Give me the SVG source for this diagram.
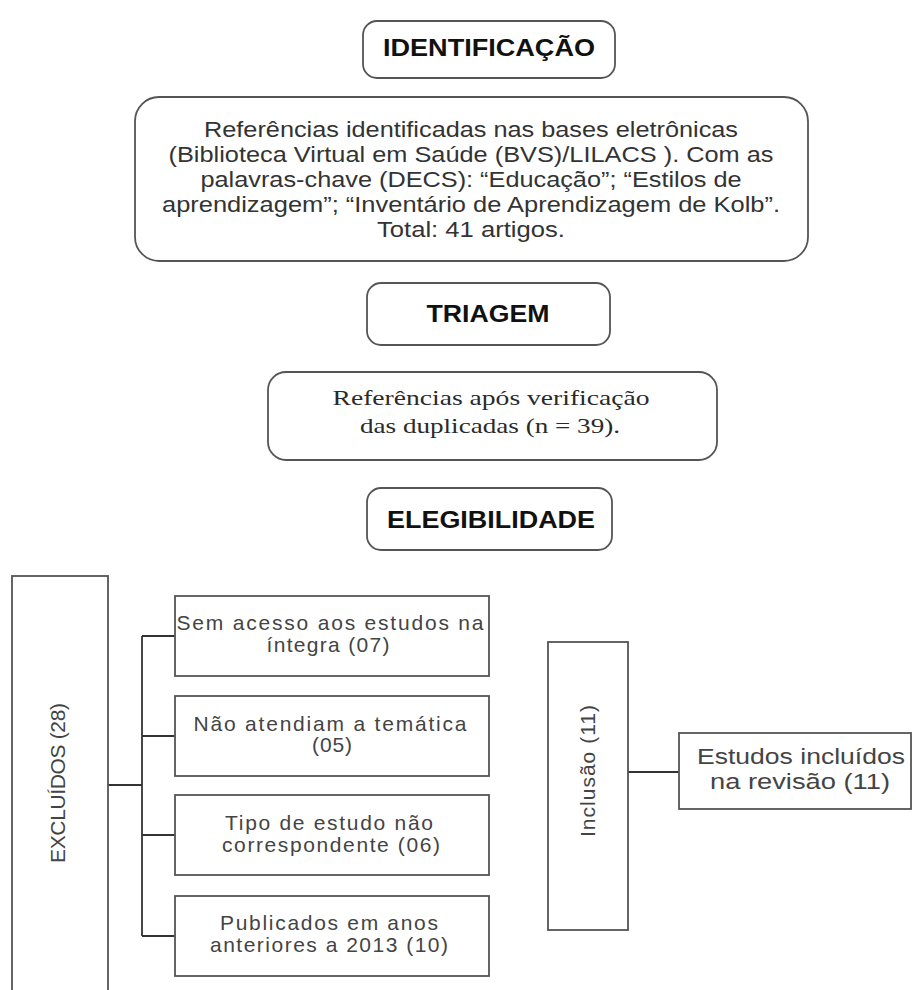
<svg xmlns="http://www.w3.org/2000/svg" width="913" height="990" viewBox="0 0 913 990">
<style>
.rbox{fill:#fff;stroke:#555;stroke-width:1.8}
.box{fill:#fff;stroke:#555;stroke-width:1.8}
.title{font-family:"Liberation Sans",Arial,sans-serif;font-weight:bold;font-size:24px;fill:#111;text-anchor:middle}
.body{font-family:"Liberation Sans",Arial,sans-serif;font-size:22px;fill:#333;text-anchor:middle}
.serif{font-family:"Liberation Serif","Times New Roman",serif;font-size:22px;fill:#2a2a2a;text-anchor:middle}
.small{font-family:"Liberation Sans",Arial,sans-serif;font-size:21px;fill:#444;text-anchor:middle}
.inc{font-family:"Liberation Sans",Arial,sans-serif;font-size:22px;fill:#444;text-anchor:middle}
.conn{fill:none;stroke:#333;stroke-width:1.8}
</style>
<rect width="913" height="990" fill="#fff"/>
<g id="identificacao">
<rect class="rbox" x="363" y="21" width="252" height="57" rx="14"/>
<text class="title" x="489" y="56" textLength="212" lengthAdjust="spacingAndGlyphs">IDENTIFICAÇÃO</text>
</g>
<g id="referencias">
<rect class="rbox" x="135" y="97" width="673" height="164" rx="24"/>
<text class="body" x="471" y="137" textLength="534" lengthAdjust="spacingAndGlyphs">Referências identificadas nas bases eletrônicas</text>
<text class="body" x="471" y="162" textLength="605" lengthAdjust="spacingAndGlyphs">(Biblioteca Virtual em Saúde (BVS)/LILACS ). Com as</text>
<text class="body" x="471" y="187" textLength="541" lengthAdjust="spacingAndGlyphs">palavras-chave (DECS): “Educação”; “Estilos de</text>
<text class="body" x="471" y="212" textLength="618" lengthAdjust="spacingAndGlyphs">aprendizagem”; “Inventário de Aprendizagem de Kolb”.</text>
<text class="body" x="471" y="237" textLength="188" lengthAdjust="spacingAndGlyphs">Total: 41 artigos.</text>
</g>
<g id="triagem">
<rect class="rbox" x="367" y="283" width="243" height="62" rx="14"/>
<text class="title" x="488" y="322" textLength="123" lengthAdjust="spacingAndGlyphs">TRIAGEM</text>
</g>
<g id="duplicadas">
<rect class="rbox" x="268" y="372" width="449" height="88" rx="18"/>
<text class="serif" x="491" y="405" textLength="317" lengthAdjust="spacingAndGlyphs">Referências após verificação</text>
<text class="serif" x="490" y="433" textLength="260" lengthAdjust="spacingAndGlyphs">das duplicadas (n = 39).</text>
</g>
<g id="elegibilidade">
<rect class="rbox" x="367" y="488" width="245" height="62" rx="14"/>
<text class="title" x="491" y="528" textLength="208" lengthAdjust="spacingAndGlyphs">ELEGIBILIDADE</text>
</g>
<g id="connectors">
<path class="conn" d="M108 785 H142"/>
<path class="conn" d="M142 636 V936"/>
<path class="conn" d="M142 636 H175"/>
<path class="conn" d="M142 736 H175"/>
<path class="conn" d="M142 835 H175"/>
<path class="conn" d="M142 936 H175"/>
<path class="conn" d="M628 772 H679"/>
</g>
<g id="excluidos">
<rect class="box" x="12" y="576" width="96" height="430"/>
<text class="small" transform="translate(58,783) rotate(-90)" x="0" y="7" textLength="160">EXCLUÍDOS (28)</text>
</g>
<g id="sem-acesso">
<rect class="box" x="175" y="596" width="314" height="80"/>
<text class="small" x="330" y="630" textLength="307">Sem acesso aos estudos na</text>
<text class="small" x="328" y="652" textLength="123">íntegra (07)</text>
</g>
<g id="tematica">
<rect class="box" x="175" y="696" width="314" height="80"/>
<text class="small" x="330" y="731" textLength="273">Não atendiam a temática</text>
<text class="small" x="332" y="752" textLength="40">(05)</text>
</g>
<g id="tipo-estudo">
<rect class="box" x="175" y="795" width="314" height="80"/>
<text class="small" x="329" y="830" textLength="208">Tipo de estudo não</text>
<text class="small" x="331" y="852" textLength="218">correspondente (06)</text>
</g>
<g id="publicados">
<rect class="box" x="175" y="896" width="314" height="80"/>
<text class="small" x="329" y="930" textLength="218">Publicados em anos</text>
<text class="small" x="329" y="952" textLength="238">anteriores a 2013 (10)</text>
</g>
<g id="inclusao">
<rect class="box" x="548" y="642" width="80" height="288"/>
<text class="small" transform="translate(588,771) rotate(-90)" x="0" y="7" textLength="132">Inclusão (11)</text>
</g>
<g id="incluidos">
<rect class="box" x="679" y="733" width="232" height="76"/>
<text class="inc" x="801" y="764" textLength="208" lengthAdjust="spacingAndGlyphs">Estudos incluídos</text>
<text class="inc" x="800" y="789" textLength="180" lengthAdjust="spacingAndGlyphs">na revisão (11)</text>
</g>
</svg>
